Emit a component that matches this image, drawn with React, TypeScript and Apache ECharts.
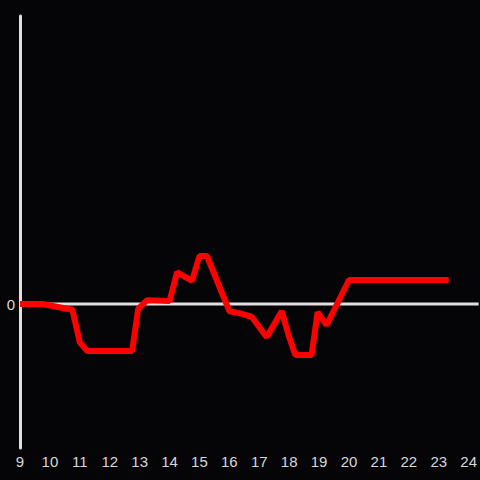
import React, { useEffect, useRef } from "react";
import * as echarts from "echarts";

const hours = [9.0, 9.75, 10.75, 11.0, 11.25, 12.75, 12.95, 13.25, 14.0, 14.25, 14.75, 15.0, 15.25, 16.0, 16.33, 16.75, 17.25, 17.75, 18.0, 18.2, 18.75, 18.95, 19.25, 20.0, 23.33];
const values = [0, 0, -0.12, -0.8, -0.98, -0.98, -0.1, 0.08, 0.06, 0.66, 0.48, 1.0, 1.0, -0.15, -0.19, -0.27, -0.69, -0.15, -0.69, -1.06, -1.06, -0.17, -0.44, 0.5, 0.5];
const zeroLine = [[9, 0], [24.3333, 0]];

export default function App() {
  const ref = useRef<HTMLDivElement>(null);
  useEffect(() => {
    if (!ref.current) return;
    const chart = echarts.init(ref.current, null, { renderer: "svg" });
    chart.setOption({
      animation: false,
      backgroundColor: "#050407",
      grid: { left: 20, right: 0, top: 16, bottom: 32 },
      xAxis: {
        type: "value",
        min: 9,
        max: 24.3333,
        interval: 1,
        axisLine: { show: false, onZero: false },
        axisTick: { show: false },
        splitLine: { show: false },
        axisLabel: {
          color: "#d8d8d8",
          fontSize: 15,
          fontFamily: "Liberation Sans, Arial, sans-serif",
          margin: 6,
          showMaxLabel: false,
          formatter: (v: number) => (Math.abs(v - Math.round(v)) < 1e-6 ? String(Math.round(v)) : ""),
        },
      },
      yAxis: {
        type: "value",
        min: -3,
        max: 6,
        interval: 3,
        axisLine: { show: true, lineStyle: { color: "#e0e0e0", width: 3 } },
        axisTick: { show: false },
        splitLine: { show: false },
        axisLabel: {
          color: "#d8d8d8",
          fontSize: 15,
          fontFamily: "Liberation Sans, Arial, sans-serif",
          margin: 5,
          formatter: (v: number) => (v === 0 ? "0" : ""),
        },
      },
      series: [
        {
          type: "line",
          data: zeroLine,
          symbol: "none",
          silent: true,
          lineStyle: { color: "#e0e0e0", width: 3 },
          z: 1,
        },
        {
          type: "line",
          data: hours.map((h, i) => [h, values[i]]),
          symbol: "none",
          lineStyle: { color: "#ff0000", width: 6 },
          z: 2,
        },
      ],
    });
    return () => chart.dispose();
  }, []);
  return <div ref={ref} style={{ width: 480, height: 480, position: "fixed", left: 0, top: 0 }} />;
}
